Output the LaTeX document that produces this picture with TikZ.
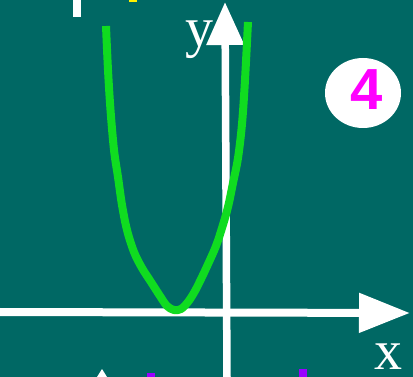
\documentclass[tikz,border=0pt]{standalone}
\usepackage{fontspec}
\setmainfont{Liberation Serif}
\newfontfamily\numfont{Liberation Sans}
\usepackage{tikz}
\usetikzlibrary{arrows.meta,positioning,shapes.geometric}
\definecolor{boardteal}{HTML}{006864}
\definecolor{curvegreen}{HTML}{10DC20}
\definecolor{badgemagenta}{HTML}{FF00FF}
\definecolor{bitpurple}{HTML}{9900FF}
\definecolor{bityellow}{HTML}{FFF000}
\tikzset{
  axis/.style={draw=white,line width=7.5pt},
  axislabel/.style={text=white,inner sep=0pt,anchor=base,font=\fontsize{56}{60}\selectfont},
  badge/.style={ellipse,fill=white,minimum width=76pt,minimum height=70pt,inner sep=0pt},
  badgenum/.style={text=badgemagenta,inner sep=0pt,anchor=base,font=\numfont\bfseries\fontsize{58}{60}\selectfont},
  parabola/.style={draw=curvegreen,line width=8pt,line join=round,line cap=butt},
}

\begin{document}
\begin{tikzpicture}[x=1pt,y=-1pt]
    \useasboundingbox (0,0) rectangle (413,377);
    \fill[boardteal] (0,0) rectangle (413,377);
    % cut-off bits at the edges
    \fill[white] (73,0) rectangle (81,17);
    \fill[bityellow] (129,0) rectangle (137,2.5);
    \fill[white] (102,369) -- (97,377) -- (107,377) -- cycle;
    \fill[bitpurple] (147,373) rectangle (155,377);
    \fill[bitpurple] (299,369) rectangle (307,377);
    % axes
    \coordinate (xstart) at (0,312);
    \coordinate (xend) at (410,313);
    \coordinate (ystart) at (227,377);
    \coordinate (yend) at (225,2);
    \draw[axis,line width=8pt,-{Triangle[length=51pt,width=38pt]}] (xstart)--(xend);
    \draw[axis,-{Triangle[length=43pt,width=36pt]}] (ystart)--(yend);
    \node[axislabel] (xlab) at (388.5,370) {x};
    \node[axislabel] (ylab) at (199.5,47) {y};
    % graph
    \draw[parabola] plot[smooth,tension=.55] coordinates {
      (106,26) (108,70) (110.5,110) (114,150) (118,177) (122,205) (127,230)
      (134,252) (142,268) (151,282) (160,296) (167,306) (174,310) (181,309)
      (188,302) (195,291) (202,277) (209,262) (216,246) (222,228) (228,207)
      (233,183) (238,158) (242,124) (245,80) (248,22)};
    % badge
    \node[badge] (badge) at (363,93) {};
    \node[badgenum] (four) at (366.5,110) {4};
  \end{tikzpicture}
\end{document}
